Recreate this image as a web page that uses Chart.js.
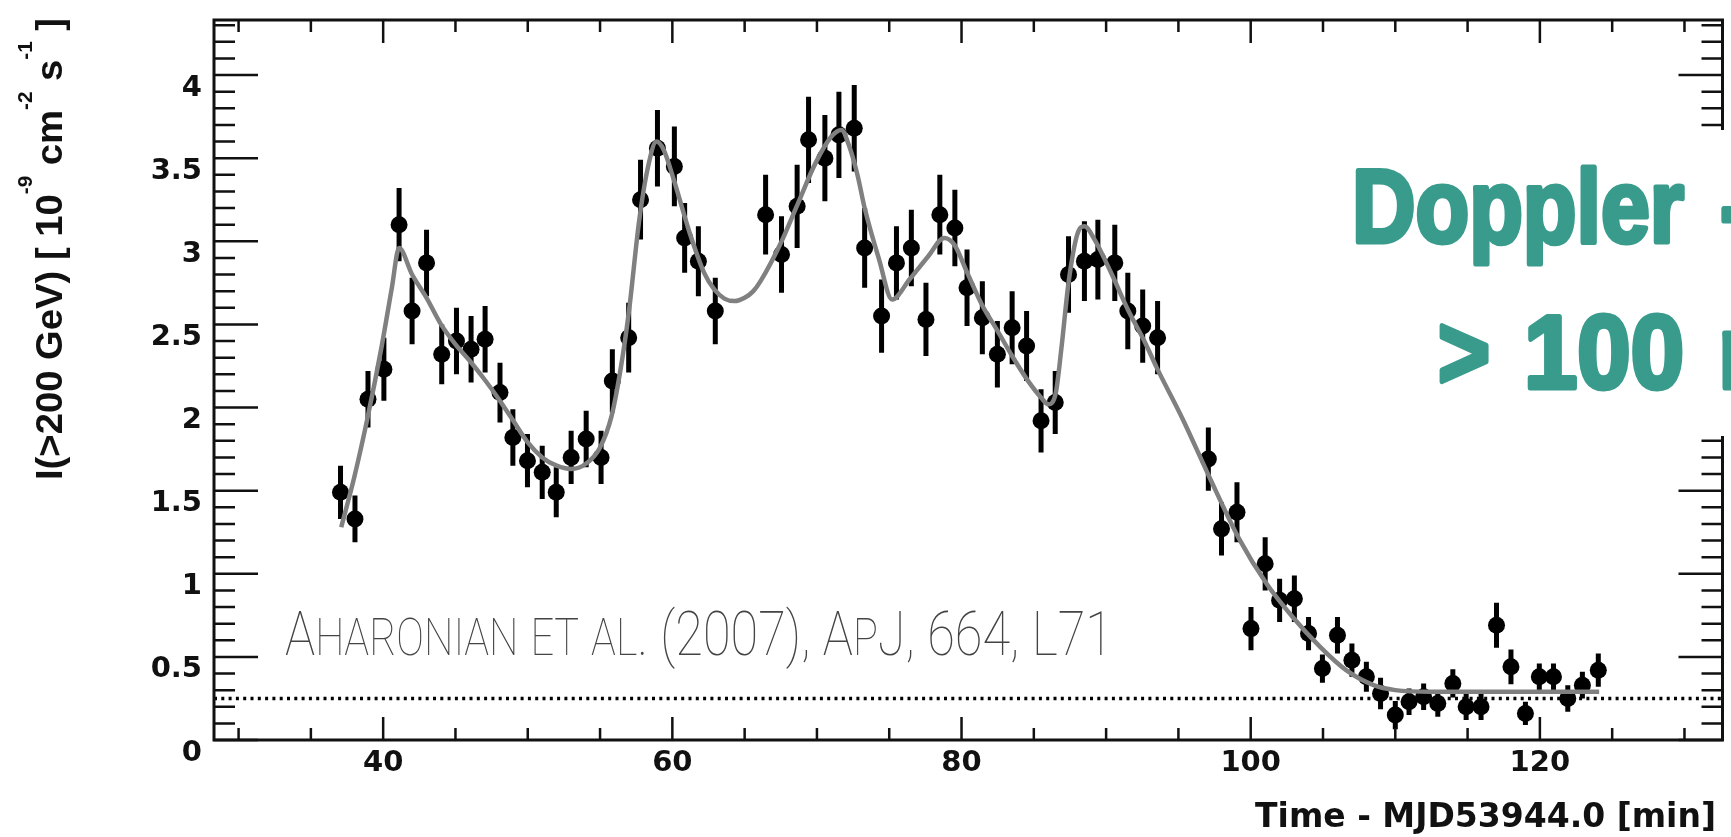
<!DOCTYPE html>
<html>
<head>
<meta charset="utf-8">
<title>PKS 2155-304 light curve</title>
<script src="https://cdn.jsdelivr.net/npm/chart.js@4.4.1/dist/chart.umd.min.js"></script>
<style>
  html, body { margin: 0; padding: 0; background: #fff; overflow: hidden; }
  canvas { display: block; }
</style>
</head>
<body>
<canvas id="lightcurve" width="1731" height="837"></canvas>
<script>
// flux points: minutes after MJD 53944.0, I(>200 GeV) in 1e-9 cm^-2 s^-1, 1-sigma errors
const times = [
  37.05, 38.05, 38.95, 40.05, 41.1, 42.0, 43.0, 44.05, 45.07, 46.08,
  47.05, 48.08, 48.97, 49.98, 51.0, 51.97, 53.0, 54.04, 55.07, 55.85,
  56.98, 57.8, 58.97, 60.14, 60.85, 61.8, 62.97, 66.45, 67.55, 68.63,
  69.42, 70.55, 71.52, 72.58, 73.3, 74.47, 75.5, 76.53, 77.54, 78.5,
  79.54, 80.38, 81.44, 82.48, 83.5, 84.5, 85.5, 86.48, 87.4, 88.5,
  89.43, 90.6, 91.5, 92.53, 93.56, 97.07, 97.98, 99.05, 100.02, 101.0,
  102.0, 103.02, 104.0, 104.96, 106.0, 107.0, 108.0, 108.98, 110.0, 110.95,
  111.96, 112.94, 113.98, 114.9, 115.93, 117.0, 118.0, 119.0, 119.96, 120.94,
  121.93, 122.94, 124.04
];
const fluxes = [
  1.49, 1.33, 2.05, 2.23, 3.10, 2.58, 2.87, 2.32, 2.40, 2.35,
  2.41, 2.09, 1.82, 1.68, 1.61, 1.49, 1.70, 1.81, 1.70, 2.16,
  2.42, 3.25, 3.56, 3.45, 3.02, 2.88, 2.58, 3.16, 2.92, 3.21,
  3.61, 3.50, 3.64, 3.68, 2.96, 2.55, 2.87, 2.96, 2.53, 3.16,
  3.08, 2.72, 2.54, 2.32, 2.48, 2.37, 1.92, 2.03, 2.80, 2.88,
  2.89, 2.87, 2.58, 2.49, 2.42, 1.69, 1.27, 1.37, 0.67, 1.06,
  0.84, 0.85, 0.64, 0.43, 0.63, 0.48, 0.38, 0.28, 0.15, 0.23,
  0.26, 0.22, 0.34, 0.20, 0.20, 0.69, 0.44, 0.16, 0.38, 0.38,
  0.25, 0.33, 0.42
];
const fluxErrors = [
  0.16, 0.14, 0.17, 0.19, 0.22, 0.20, 0.20, 0.18, 0.20, 0.20,
  0.20, 0.18, 0.17, 0.16, 0.16, 0.15, 0.16, 0.17, 0.16, 0.19,
  0.21, 0.24, 0.23, 0.24, 0.21, 0.21, 0.20, 0.24, 0.23, 0.25,
  0.26, 0.26, 0.26, 0.26, 0.24, 0.22, 0.22, 0.23, 0.22, 0.24,
  0.23, 0.23, 0.22, 0.20, 0.22, 0.21, 0.19, 0.19, 0.23, 0.24,
  0.24, 0.23, 0.23, 0.22, 0.22, 0.19, 0.16, 0.18, 0.13, 0.16,
  0.13, 0.14, 0.10, 0.085, 0.11, 0.10, 0.09, 0.095, 0.085, 0.08,
  0.08, 0.08, 0.085, 0.08, 0.08, 0.135, 0.105, 0.07, 0.08, 0.08,
  0.08, 0.08, 0.10
];

// fitted light curve (superposition of bursts), sampled along the drawn line
const fitTimes = [
  37.1, 38.0, 38.9, 39.9, 40.6, 41.1, 42.0, 43.0, 44.0, 45.0,
  46.0, 47.0, 48.0, 49.0, 50.0, 51.0, 52.0, 53.0, 54.0, 55.0,
  55.8, 56.4, 57.0, 57.7, 58.3, 58.9, 59.4, 60.1, 61.2, 62.2,
  62.9, 63.6, 64.3, 65.0, 65.6, 66.1, 67.5, 68.6, 69.9, 71.0,
  71.7, 72.2, 72.8, 73.3, 74.3, 75.2, 76.4, 77.7, 78.8, 79.5,
  80.4, 81.4, 82.5, 83.5, 84.6, 85.5, 86.0, 86.5, 86.9, 87.4,
  88.0, 88.5, 89.2, 90.4, 91.5, 92.7, 93.5, 95.3, 97.1, 99.2,
  101.1, 102.9, 104.8, 106.6, 108.5, 110.0, 112.5, 124.1
];
const fitFluxes = [
  1.28, 1.58, 1.93, 2.37, 2.72, 2.96, 2.80, 2.66, 2.50, 2.38,
  2.28, 2.17, 2.05, 1.92, 1.79, 1.70, 1.65, 1.63, 1.66, 1.76,
  1.95, 2.22, 2.58, 3.12, 3.44, 3.60, 3.55, 3.37, 3.05, 2.81,
  2.71, 2.655, 2.64, 2.66, 2.70, 2.76, 2.99, 3.21, 3.47, 3.63,
  3.67, 3.58, 3.40, 3.20, 2.89, 2.65, 2.77, 2.91, 3.02, 2.98,
  2.81, 2.62, 2.46, 2.31, 2.16, 2.06, 2.02, 2.08, 2.35, 2.75,
  3.04, 3.09, 3.01, 2.80, 2.59, 2.39, 2.24, 1.93, 1.59, 1.21,
  0.94, 0.74, 0.56, 0.42, 0.33, 0.30, 0.29, 0.29
];

// quiescent flux level, dotted across the whole frame
const baselineLevel = 0.25;

const xTickValues = [40, 60, 80, 100, 120];
const yTickValues = [0, 0.5, 1, 1.5, 2, 2.5, 3, 3.5, 4];
const yTickLabels = ["0", "0.5", "1", "1.5", "2", "2.5", "3", "3.5", "4"];

const X_MIN = 28.3;
const X_MAX = 132.63;
const Y_MAX = 4.331;

const INK = "#111";
const TICK_FONT = { family: "'DejaVu Sans', sans-serif", size: 29, weight: "bold" };

// ROOT-style frame: inward major/minor ticks on all four sides
const frameTicks = {
  id: "frameTicks",
  afterDatasetsDraw(chart) {
    const { ctx, chartArea: a, scales } = chart;
    const x = scales.x;
    const y = scales.y;
    ctx.save();
    ctx.strokeStyle = INK;
    ctx.lineWidth = 2.5;
    ctx.beginPath();
    for (let t = Math.ceil(x.min / 5) * 5; t <= x.max; t += 5) {
      const px = x.getPixelForValue(t);
      const len = t % 20 === 0 ? 23 : 12;
      ctx.moveTo(px, a.bottom);
      ctx.lineTo(px, a.bottom - len);
      ctx.moveTo(px, a.top);
      ctx.lineTo(px, a.top + len);
    }
    for (let i = 0; i * 0.1 <= y.max + 1e-9; i++) {
      const py = y.getPixelForValue(i * 0.1);
      const len = i % 5 === 0 ? 44 : 21;
      ctx.moveTo(a.left, py);
      ctx.lineTo(a.left + len, py);
      ctx.moveTo(a.right, py);
      ctx.lineTo(a.right - len, py);
    }
    ctx.stroke();
    ctx.lineWidth = 3;
    ctx.strokeRect(a.left, a.top, a.right - a.left, a.bottom - a.top);
    ctx.restore();
  },
};

// vertical error bars, drawn under the markers
const errorBars = {
  id: "errorBars",
  beforeDatasetsDraw(chart) {
    const { ctx, scales } = chart;
    ctx.save();
    ctx.strokeStyle = "#000";
    ctx.lineWidth = 5;
    ctx.beginPath();
    times.forEach((t, i) => {
      const px = scales.x.getPixelForValue(t);
      ctx.moveTo(px, scales.y.getPixelForValue(fluxes[i] + fluxErrors[i]));
      ctx.lineTo(px, scales.y.getPixelForValue(fluxes[i] - fluxErrors[i]));
    });
    ctx.stroke();
    ctx.restore();
  },
};

// draw a run of text squeezed/stretched to span a given width
function fitRun(ctx, text, left, width, baseline, stroke) {
  const w = ctx.measureText(text).width;
  ctx.save();
  ctx.translate(left, baseline);
  ctx.scale(width / w, 1);
  ctx.fillText(text, 0, 0);
  if (stroke) ctx.strokeText(text, 0, 0);
  ctx.restore();
}

// mixed runs with superscripts, fitted to a total length
function richText(ctx, runs, size, family, length) {
  const fontFor = (r) => `bold ${r.sup ? Math.round(size * 0.55) : size}px ${family}`;
  let total = 0;
  runs.forEach((r) => {
    ctx.font = fontFor(r);
    total += ctx.measureText(r.text).width;
  });
  ctx.scale(length / total, 1);
  let pos = 0;
  runs.forEach((r) => {
    ctx.font = fontFor(r);
    ctx.fillText(r.text, pos, r.sup ? -size * 0.8 : 0);
    pos += ctx.measureText(r.text).width;
  });
}

// small caps by hand: lower-case letters set as smaller capitals
function smallCaps(ctx, text, left, baseline, bigSize, smallSize, family, width) {
  const pieces = [...text].map((ch) => {
    const low = ch !== ch.toUpperCase();
    return { ch: ch.toUpperCase(), font: `100 ${low ? smallSize : bigSize}px ${family}` };
  });
  let total = 0;
  pieces.forEach((p) => {
    ctx.font = p.font;
    total += ctx.measureText(p.ch).width;
  });
  ctx.save();
  ctx.translate(left, baseline);
  ctx.scale(width / total, 1);
  let pos = 0;
  pieces.forEach((p) => {
    ctx.font = p.font;
    ctx.fillText(p.ch, pos, 0);
    pos += ctx.measureText(p.ch).width;
  });
  ctx.restore();
}

const annotations = {
  id: "annotations",
  afterDraw(chart) {
    const { ctx } = chart;
    ctx.save();
    ctx.fillStyle = INK;
    ctx.textBaseline = "alphabetic";

    // x axis title, right aligned under the frame
    ctx.font = "bold 33px 'DejaVu Sans', sans-serif";
    ctx.textAlign = "right";
    ctx.fillText("Time - MJD53944.0 [min]", 1716, 827);

    // y axis title, reading upwards
    ctx.textAlign = "left";
    ctx.save();
    ctx.translate(62, 480);
    ctx.rotate(-Math.PI / 2);
    richText(ctx, [
      { text: "I(>200 GeV) [ 10" },
      { text: "-9", sup: true },
      { text: " cm" },
      { text: "-2", sup: true },
      { text: " s" },
      { text: "-1", sup: true },
      { text: " ]" },
    ], 37, "'Liberation Sans', Arial, sans-serif", 462);
    ctx.restore();

    // reference
    ctx.fillStyle = "#444";
    smallCaps(ctx, "Aharonian et al. (2007), ApJ, 664, L71", 285, 655, 62, 51,
      "Roboto, Inter, Lato, sans-serif", 828);

    // text box on the right
    ctx.fillStyle = "#fff";
    ctx.fillRect(1340, 130, 391, 306);
    const teal = "#389b8c";
    ctx.fillStyle = teal;
    ctx.strokeStyle = teal;
    ctx.lineWidth = 5;
    ctx.lineJoin = "round";
    ctx.font = "bold 104px 'Liberation Sans Narrow', 'Liberation Sans', sans-serif";
    fitRun(ctx, "Doppler", 1352, 332, 242, true);
    fitRun(ctx, "-", 1720, 30, 242, true);
    fitRun(ctx, ">", 1438, 52, 388, true);
    fitRun(ctx, "100", 1524, 160, 388, true);
    fitRun(ctx, "n", 1718, 60, 388, true);
    ctx.restore();
  },
};

const chart = new Chart(document.getElementById("lightcurve"), {
  type: "scatter",
  data: {
    datasets: [
      {
        type: "line",
        label: "fit",
        data: fitTimes.map((t, i) => ({ x: t, y: fitFluxes[i] })),
        borderColor: "#808080",
        borderWidth: 4.5,
        pointRadius: 0,
        cubicInterpolationMode: "monotone",
        order: 0,
      },
      {
        label: "flux",
        data: times.map((t, i) => ({ x: t, y: fluxes[i] })),
        backgroundColor: "#000",
        borderWidth: 0,
        pointRadius: 8.5,
        order: 1,
      },
      {
        type: "line",
        label: "baseline",
        data: [{ x: X_MIN, y: baselineLevel }, { x: X_MAX, y: baselineLevel }],
        borderColor: "#000",
        borderWidth: 3.5,
        borderDash: [3, 4.3],
        pointRadius: 0,
        order: 2,
      },
    ],
  },
  options: {
    responsive: false,
    animation: false,
    events: [],
    layout: { padding: { top: 20, right: 1, left: 0, bottom: 0 } },
    plugins: { legend: { display: false }, tooltip: { enabled: false } },
    scales: {
      x: {
        type: "linear",
        min: X_MIN,
        max: X_MAX,
        grid: { display: false, drawTicks: false },
        border: { display: false },
        afterBuildTicks: (scale) => { scale.ticks = xTickValues.map((value) => ({ value })); },
        afterFit: (scale) => {
          scale.height = 97;
          scale.paddingLeft = 0;
          scale.paddingRight = 0;
        },
        ticks: {
          font: TICK_FONT,
          color: INK,
          padding: 6,
          maxRotation: 0,
          autoSkip: false,
          callback: (value) => String(value),
        },
      },
      y: {
        type: "linear",
        min: 0,
        max: Y_MAX,
        grid: { display: false, drawTicks: false },
        border: { display: false },
        afterBuildTicks: (scale) => { scale.ticks = yTickValues.map((value) => ({ value })); },
        afterFit: (scale) => {
          scale.width = 214;
          scale.paddingTop = 0;
          scale.paddingBottom = 0;
        },
        ticks: {
          font: TICK_FONT,
          color: INK,
          padding: 12,
          labelOffset: 13,
          autoSkip: false,
          callback: (value, index) => yTickLabels[index],
        },
      },
    },
  },
  plugins: [errorBars, frameTicks, annotations],
});
</script>
</body>
</html>
